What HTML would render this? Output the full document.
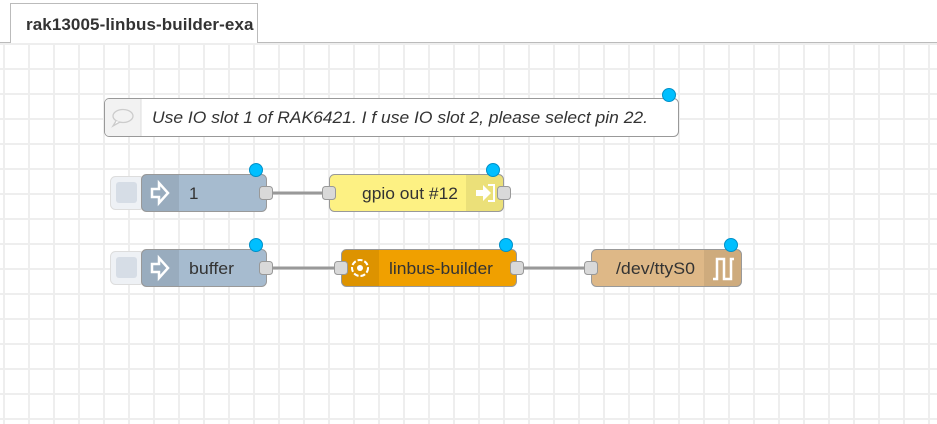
<!DOCTYPE html>
<html><head><style>
body{margin:0;width:937px;height:423px;overflow:hidden;background:#fff;font-family:"Liberation Sans",Arial,sans-serif;position:relative}
.canvas{position:absolute;left:0;top:42px;width:937px;height:381px;border-top:1px solid #bbb;
background-image:linear-gradient(to right,#eee 2px,transparent 2px),linear-gradient(to bottom,#eee 2px,transparent 2px);
background-size:25px 25px;background-position:3px 0px}
.tab{position:absolute;left:10px;top:3px;width:248px;height:40px;background:#fff;border:1px solid #bbb;border-bottom:none;z-index:2;font-weight:bold;font-size:17px;color:#333;line-height:42px;padding-left:15px;box-sizing:border-box;overflow:hidden;white-space:nowrap;letter-spacing:0.1px}
</style></head><body>
<div class="canvas"></div>
<div class="tab">rak13005-linbus-builder-exa</div>
<svg width="937" height="423" style="position:absolute;left:0;top:0" font-family="Liberation Sans, Arial, sans-serif">
<path d="M266 193 H329" stroke="#999" stroke-width="3"/>
<path d="M266 268 H341" stroke="#999" stroke-width="3"/>
<path d="M516 268 H591" stroke="#999" stroke-width="3"/>
<!-- comment -->
<rect x="104.5" y="98.5" width="574" height="38" rx="5" fill="#fff" stroke="#999"/>
<path d="M105 103 a4 4 0 0 1 4 -4 H141 V136 H109 a4 4 0 0 1 -4 -4Z" fill="#f2f2f2"/>
<line x1="141" y1="99" x2="141" y2="136" stroke="#ddd"/>
<ellipse cx="123" cy="116" rx="10" ry="6.5" fill="none" stroke="#ccc" stroke-width="1.3"/>
<path d="M116 121 l-3 5 l7 -4" fill="#fff" stroke="#ccc" stroke-width="1.3"/>
<text x="152" y="123" font-size="17" font-style="italic" fill="#333" textLength="496" lengthAdjust="spacingAndGlyphs">Use IO slot 1 of RAK6421. I f use IO slot 2, please select pin 22.</text>
<circle cx="669" cy="95" r="6.5" fill="#00bfff" stroke="#0090c8"/>
<!-- inject 1 -->
<rect x="110.5" y="176.5" width="34" height="33" rx="5" fill="#eef1f5" stroke="#ddd"/>
<rect x="116" y="182" width="21" height="21" rx="3" fill="#d6dde6"/>
<rect x="141.5" y="174.5" width="125" height="37" rx="5" fill="#a6bbcf" stroke="#999"/>
<path d="M146 175 H179 V211 H146 a4 4 0 0 1 -4 -4 V179 a4 4 0 0 1 4 -4Z" fill="#000" opacity=".08"/>
<path d="M152 189 h7 v-6 l9 10 l-9 10 v-6 h-7z" fill="none" stroke="#fff" stroke-width="2.5"/>
<text x="189" y="199" font-size="17" fill="#333">1</text>
<rect x="259.5" y="186.5" width="13" height="13" rx="3" fill="#d9d9d9" stroke="#999"/>
<circle cx="256" cy="170" r="6.5" fill="#00bfff" stroke="#0090c8"/>
<!-- gpio -->
<rect x="329.5" y="174.5" width="174" height="37" rx="5" fill="#fdf183" stroke="#999"/>
<path d="M466 175 H499 a4 4 0 0 1 4 4 V207 a4 4 0 0 1 -4 4 H466Z" fill="#000" opacity=".07"/>
<path d="M476 190 h7 v-5 l8 8 l-8 8 v-5 h-7z" fill="#fff"/>
<path d="M488 185 h6 v16 h-6" fill="none" stroke="#fff" stroke-width="2"/>
<text x="362" y="199" font-size="17" fill="#333" textLength="96" lengthAdjust="spacingAndGlyphs">gpio out #12</text>
<rect x="322.5" y="186.5" width="13" height="13" rx="3" fill="#d9d9d9" stroke="#999"/>
<rect x="497.5" y="186.5" width="13" height="13" rx="3" fill="#d9d9d9" stroke="#999"/>
<circle cx="493" cy="170" r="6.5" fill="#00bfff" stroke="#0090c8"/>
<!-- inject buffer -->
<rect x="110.5" y="251.5" width="34" height="33" rx="5" fill="#eef1f5" stroke="#ddd"/>
<rect x="116" y="257" width="21" height="21" rx="3" fill="#d6dde6"/>
<rect x="141.5" y="249.5" width="125" height="37" rx="5" fill="#a6bbcf" stroke="#999"/>
<path d="M146 250 H179 V286 H146 a4 4 0 0 1 -4 -4 V254 a4 4 0 0 1 4 -4Z" fill="#000" opacity=".08"/>
<path d="M152 264 h7 v-6 l9 10 l-9 10 v-6 h-7z" fill="none" stroke="#fff" stroke-width="2.5"/>
<text x="189" y="274" font-size="17" fill="#333" textLength="45" lengthAdjust="spacingAndGlyphs">buffer</text>
<rect x="259.5" y="261.5" width="13" height="13" rx="3" fill="#d9d9d9" stroke="#999"/>
<circle cx="256" cy="245" r="6.5" fill="#00bfff" stroke="#0090c8"/>
<!-- linbus -->
<rect x="341.5" y="249.5" width="175" height="37" rx="5" fill="#f0a000" stroke="#999"/>
<path d="M346 250 H379 V286 H346 a4 4 0 0 1 -4 -4 V254 a4 4 0 0 1 4 -4Z" fill="#000" opacity=".08"/>
<circle cx="360" cy="268" r="8" fill="none" stroke="#fff" stroke-width="2" stroke-dasharray="5 2"/>
<circle cx="360" cy="268" r="3" fill="#fff"/>
<text x="389" y="274" font-size="17" fill="#333" textLength="104" lengthAdjust="spacingAndGlyphs">linbus-builder</text>
<rect x="334.5" y="261.5" width="13" height="13" rx="3" fill="#d9d9d9" stroke="#999"/>
<rect x="510.5" y="261.5" width="13" height="13" rx="3" fill="#d9d9d9" stroke="#999"/>
<circle cx="506" cy="245" r="6.5" fill="#00bfff" stroke="#0090c8"/>
<!-- tty -->
<rect x="591.5" y="249.5" width="150" height="37" rx="5" fill="#deb887" stroke="#999"/>
<path d="M704 250 H737 a4 4 0 0 1 4 4 V282 a4 4 0 0 1 -4 4 H704Z" fill="#000" opacity=".07"/>
<path d="M713 279 h4 v-20 h7 v20 h7 v-20 h3" fill="none" stroke="#fff" stroke-width="2.5"/>
<text x="616" y="274" font-size="17" fill="#333" textLength="79" lengthAdjust="spacingAndGlyphs">/dev/ttyS0</text>
<rect x="584.5" y="261.5" width="13" height="13" rx="3" fill="#d9d9d9" stroke="#999"/>
<circle cx="731" cy="245" r="6.5" fill="#00bfff" stroke="#0090c8"/>
</svg>
</body></html>
